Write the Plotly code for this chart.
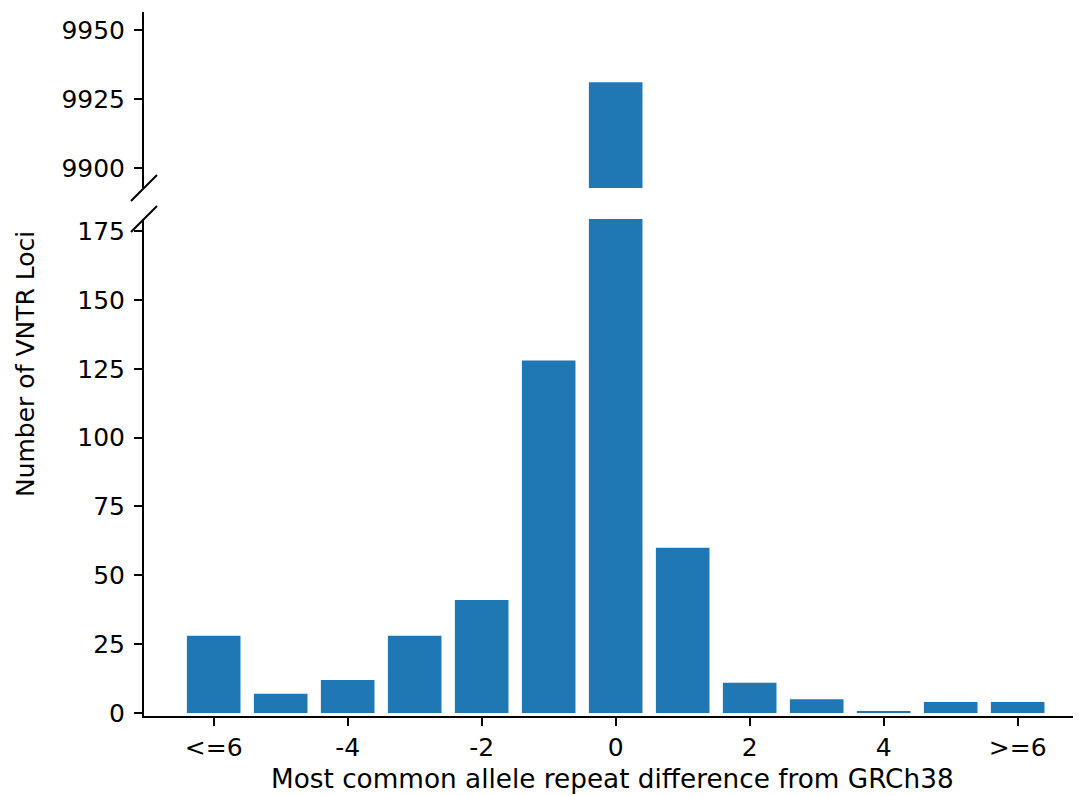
import plotly.graph_objects as go

categories = [-6, -5, -4, -3, -2, -1, 0, 1, 2, 3, 4, 5, 6]
counts = [28, 7, 12, 28, 41, 128, 9931, 60, 11, 5, 0.5, 4, 4]
tick_vals = [-6, -4, -2, 0, 2, 4, 6]
tick_text = ["<=6", "-4", "-2", "0", "2", "4", ">=6"]
low_ticks = [0, 25, 50, 75, 100, 125, 150, 175]
high_ticks = [9900, 9925, 9950]

color = "#1f77b4"
font = dict(family="DejaVu Sans", size=25, color="black")

fig = go.Figure()
fig.add_trace(go.Bar(x=categories, y=counts, width=0.8, marker=dict(color=color, line=dict(width=0)),
                     xaxis="x", yaxis="y", showlegend=False))
fig.add_trace(go.Bar(x=categories, y=counts, width=0.8, marker=dict(color=color, line=dict(width=0)),
                     xaxis="x2", yaxis="y2", showlegend=False))

axis_common = dict(showline=True, linecolor="black", linewidth=2, ticks="outside",
                   ticklen=8, tickwidth=2, tickcolor="black", showgrid=False, zeroline=False,
                   automargin=False, tickfont=font)

# page body has an 8px default margin, so the figure is sized/offset to compensate
fig.update_layout(
    width=1073, height=788,
    margin=dict(l=136, r=1, t=4, b=80),
    paper_bgcolor="white", plot_bgcolor="white",
    font=font,
    xaxis=dict(range=[-7.04, 6.93], tickvals=tick_vals, ticktext=tick_text, **axis_common),
    yaxis=dict(domain=[0, 0.706], range=[-1.1, 179.4], tickvals=low_ticks, tickformat="d",
               ticklabelstandoff=4, **axis_common),
    xaxis2=dict(anchor="y2", matches="x", visible=False),
    yaxis2=dict(domain=[0.75, 1], range=[9892.7, 9956.5], tickvals=high_ticks, anchor="x2",
                tickformat="d", ticklabelstandoff=4, **axis_common),
    bargap=0.2,
)

fig.add_annotation(text="Number of VNTR Loci", xref="paper", yref="paper", x=-0.1271, y=0.5,
                   textangle=-90, showarrow=False, font=font, xanchor="center", yanchor="middle")
fig.add_annotation(text="Most common allele repeat difference from GRCh38", xref="paper", yref="paper",
                   x=0.5, y=0, yshift=-63, showarrow=False,
                   font=dict(family="DejaVu Sans", size=26.3, color="black"),
                   xanchor="center", yanchor="middle")

# axis-break marks
for y0, y1 in [(0.7315, 0.7685), (0.6875, 0.7244)]:
    fig.add_shape(type="line", xref="paper", yref="paper", x0=-0.0139, x1=0.0139, y0=y0, y1=y1,
                  line=dict(color="black", width=2))

fig.write_html("out.html")
